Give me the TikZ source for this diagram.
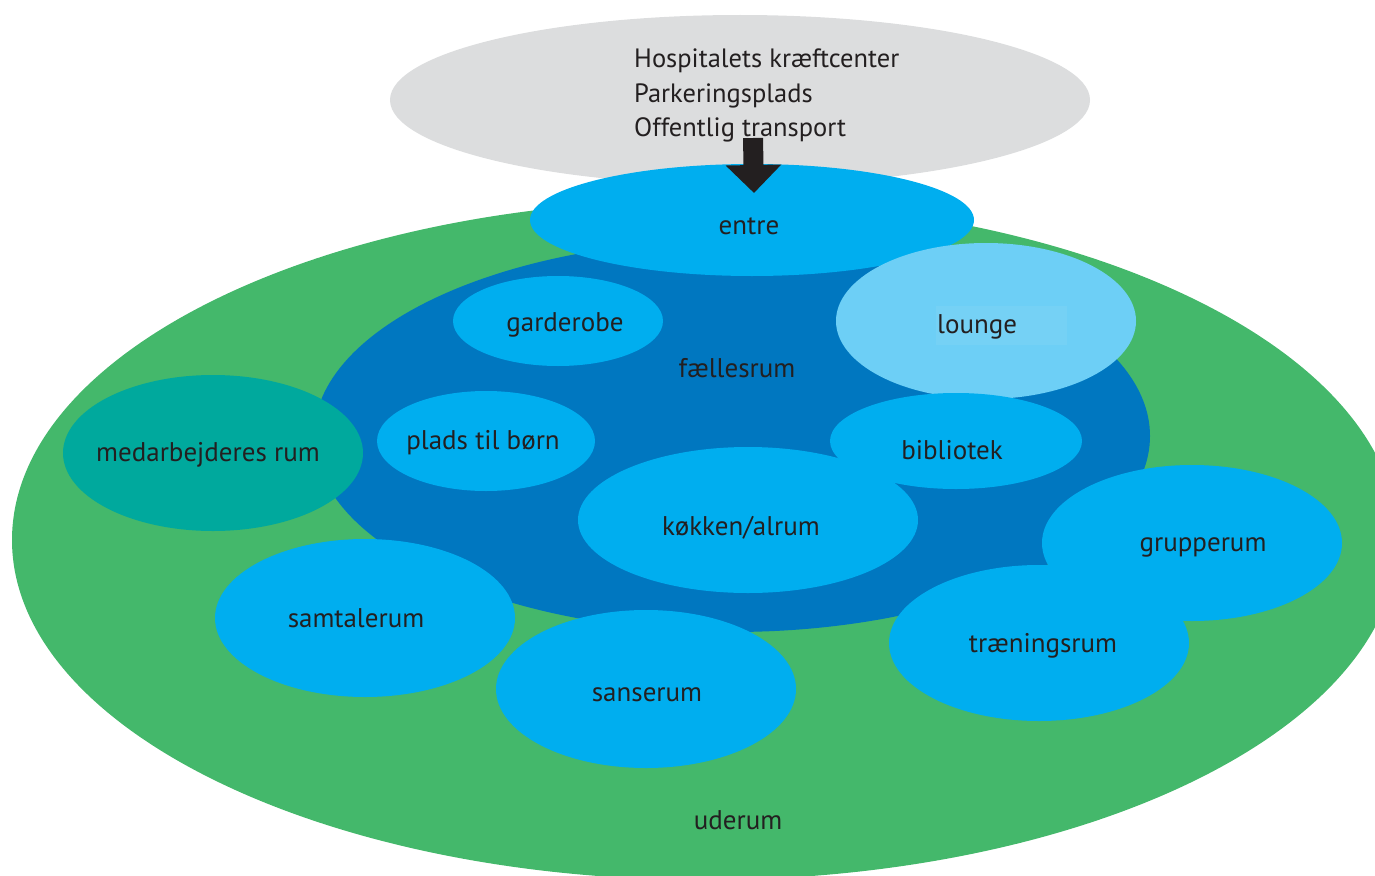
\documentclass[tikz,border=0pt]{standalone}
\usepackage{fontspec}
\setmainfont{PT Sans}
\usetikzlibrary{shapes.geometric,arrows.meta}
\definecolor{cgreen}{HTML}{44B86B}
\definecolor{cdark}{HTML}{0077C0}
\definecolor{ccyan}{HTML}{00AEEF}
\definecolor{clight}{HTML}{6DCFF6}
\definecolor{cbox}{HTML}{75D1F5}
\definecolor{cteal}{HTML}{00A99D}
\definecolor{cgray}{HTML}{DCDDDE}
\definecolor{ctext}{HTML}{231F20}
\begin{document}
\begin{tikzpicture}[x=1pt,y=-1pt,
  zone/.style={ellipse, inner sep=0pt, outer sep=0pt, draw=none},
  room/.style={zone, fill=ccyan},
  lbl/.style={text=ctext, font=\fontsize{27}{31}\selectfont, inner sep=0pt, anchor=base},
  toptext/.style={text=ctext, font=\fontsize{26.5}{31}\selectfont, inner sep=0pt, anchor=base west}]
\useasboundingbox (0,0) rectangle (1375,875);
\clip (0,0) rectangle (1375,875);
% zones
\node[zone, fill=cgreen, minimum width=1386pt, minimum height=680pt] (uderum) at (705,540) {};
\node[zone, fill=cgray, minimum width=700pt, minimum height=170pt] (hosp) at (740,100) {};
\node[zone, fill=cdark, minimum width=836pt, minimum height=392pt] (faelles) at (732,436) {};
\node[room, minimum width=444pt, minimum height=112pt] (entre) at (752,220) {};
\node[zone, fill=clight, minimum width=300pt, minimum height=156pt] (lounge) at (986,321) {};
\node[room, minimum width=210pt, minimum height=90pt] (garderobe) at (558,321) {};
\node[room, minimum width=218pt, minimum height=100pt] (plads) at (486,441) {};
\node[zone, fill=cteal, minimum width=300pt, minimum height=156pt] (medarb) at (213,453) {};
\node[room, minimum width=252pt, minimum height=96pt] (bibliotek) at (956,441) {};
\node[room, minimum width=340pt, minimum height=146pt] (kokken) at (748,520) {};
\node[room, minimum width=300pt, minimum height=156pt] (grupperum) at (1192,543) {};
\node[room, minimum width=300pt, minimum height=156pt] (traening) at (1039,643) {};
\node[room, minimum width=300pt, minimum height=158pt] (samtale) at (365,618) {};
\node[room, minimum width=300pt, minimum height=158pt] (sanse) at (646,689) {};
% labels
\node[toptext] (t1) at (634,67) {Hospitalets kræftcenter};
\node[toptext] (t2) at (634,102) {Parkeringsplads};
\node[toptext] (t3) at (634,136) {Offentlig transport};
\node[lbl] (lentre) at (749,234) {entre};
\node[fill=cbox, inner sep=0pt, minimum width=131pt, minimum height=39pt, anchor=north west] (loungebox) at (936,306) {};
\node[lbl, anchor=base west] (llounge) at (937,333) {lounge};
\node[lbl] (lgarderobe) at (565,331) {garderobe};
\node[lbl] (lfaelles) at (737,377) {fællesrum};
\node[lbl] (lplads) at (483,449) {plads til børn};
\node[lbl] (lmedarb) at (208,461) {medarbejderes rum};
\node[lbl] (lbibliotek) at (952,459) {bibliotek};
\node[lbl] (lkokken) at (741,535) {køkken/alrum};
\node[lbl] (lgrupperum) at (1203,551) {grupperum};
\node[lbl] (ltraening) at (1043,652) {træningsrum};
\node[lbl] (lsamtale) at (356,627) {samtalerum};
\node[lbl] (lsanse) at (647,701) {sanserum};
\node[lbl] (luderum) at (738,829) {uderum};
% arrow
\coordinate (arrS) at (753,138);
\coordinate (arrE) at (754,193);
\draw[ctext, line width=20pt, -{Triangle[width=54pt,length=28pt]}] (arrS) -- (arrE);
\end{tikzpicture}
\end{document}
